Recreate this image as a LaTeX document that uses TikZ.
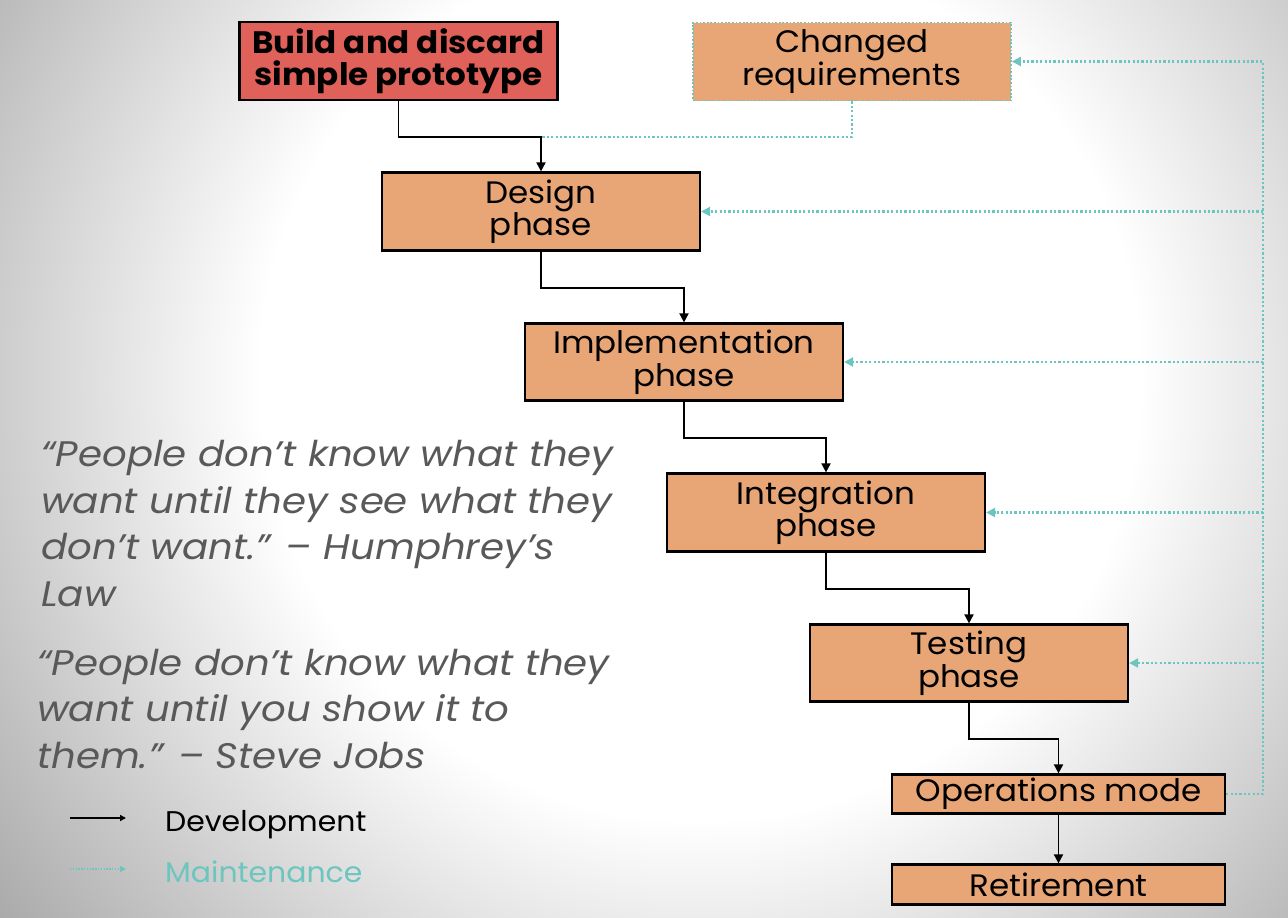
\documentclass[tikz,border=0pt]{standalone}
\usepackage{fontspec}
\setmainfont{Poppins}[FakeStretch=1.05]
\newfontfamily\quotefont{Poppins}[FakeStretch=1.09]
\usetikzlibrary{arrows.meta,calc}
\definecolor{boxfill}{HTML}{E8A677}
\definecolor{redfill}{HTML}{DF615A}
\definecolor{teal}{HTML}{6DC5BF}
\definecolor{quotegray}{HTML}{595959}
\pgfdeclareradialshading{bgshade}{\pgfpoint{0bp}{0bp}}{color(0bp)=(white); color(11bp)=(white); color(25bp)=(black!42); color(50bp)=(black!42)}
\tikzset{
  phase/.style={draw=black, line width=2.2pt, fill=boxfill, inner sep=0pt, align=center,
    font=\fontsize{31}{32.5}\selectfont, minimum width=318pt, minimum height=78pt},
  proto/.style={phase, fill=redfill, font=\fontsize{31}{31.5}\selectfont\bfseries},
  changedbox/.style={phase, draw=teal, line width=1.8pt, dash pattern=on 1.8pt off 1.8pt},
  dev/.style={draw=black, line width=1.8pt, -{Triangle[length=9pt,width=9pt]}},
  maint/.style={draw=teal, line width=2.2pt, dash pattern=on 2.2pt off 2.2pt},
  maintarrow/.style={maint, -{Triangle[length=9pt,width=9pt]}},
  quote/.style={inner sep=0pt, align=left, text=quotegray, anchor=north west,
    font=\quotefont\fontsize{35.5}{46.5}\selectfont\itshape},
  legendtext/.style={inner sep=0pt, anchor=base west, font=\fontsize{28.5}{32}\selectfont}
}
\begin{document}
\begin{tikzpicture}[x=1pt,y=-1pt]
\useasboundingbox (0,0) rectangle (1288,918);
\begin{scope}
  \clip (0,0) rectangle (1288,918);
  \shade[shading=bgshade] (700,380) circle (1000);
\end{scope}

\node[proto] (build) at (398.5,61) {Build and discard\\simple prototype};
\node[changedbox] (changed) at (852,61.5) {Changed\\requirements};
\node[phase] (design) at (541,211.5) {Design\\phase};
\node[phase, minimum height=77pt] (impl) at (684,362) {Implementation\\phase};
\node[phase] (integ) at (826,512.5) {Integration\\phase};
\node[phase, minimum height=77pt] (test) at (969,663) {Testing\\phase};
\node[phase, minimum width=333pt, minimum height=39pt] (ops) at (1058.5,794) {Operations mode};
\node[phase, minimum width=333pt, minimum height=40pt] (ret) at (1058.5,884.5) {Retirement};

% development flow
\path (build.south) ++(0,36) coordinate (j0);
\coordinate (j1) at (design.north |- j0);
\draw[dev] (build.south) |- (j1) -- (design.north);
\draw[dev] (design.south) -- ++(0,36.5) -| (impl.north);
\draw[dev] (impl.south) -- ++(0,36.5) -| (integ.north);
\draw[dev] (integ.south) -- ++(0,36.5) -| (test.north);
\draw[dev] (test.south) -- ++(0,36.5) -| (ops.north);
\draw[dev] (ops.south) -- (ret.north);

% maintenance flow
\draw[maint] (changed.south) |- (j1);
\coordinate (busB) at (1263,794);
\coordinate (busT) at (1263,61.5);
\draw[maintarrow] (ops.east) -- (busB) -- (busT) -- (changed.east);
\draw[maintarrow] (busB |- design.east) -- (design.east);
\draw[maintarrow] (busB |- impl.east) -- (impl.east);
\draw[maintarrow] (busB |- integ.east) -- (integ.east);
\draw[maintarrow] (busB |- test.east) -- (test.east);

% quotes
\node[quote] (q1) at (41,440.5) {“People don’t know what they\\want until they see what they\\don’t want.” – Humphrey’s\\Law};
\node[quote] (q2) at (37,649) {“People don’t know what they\\want until you show it to\\them.” – Steve Jobs};

% legend
\coordinate (la1) at (70,818);
\coordinate (la2) at (126,818);
\coordinate (lb1) at (70,869);
\coordinate (lb2) at (126,869);
\draw[draw=black, line width=1.4pt, -{Triangle[length=6pt,width=6pt]}] (la1) -- (la2);
\draw[draw=teal, line width=1.4pt, dash pattern=on 1.4pt off 1.4pt, -{Triangle[length=6pt,width=6pt]}] (lb1) -- (lb2);
\node[legendtext] (ldev) at (165,831) {Development};
\node[legendtext, text=teal] (lmaint) at (165,882) {Maintenance};
\end{tikzpicture}
\end{document}
